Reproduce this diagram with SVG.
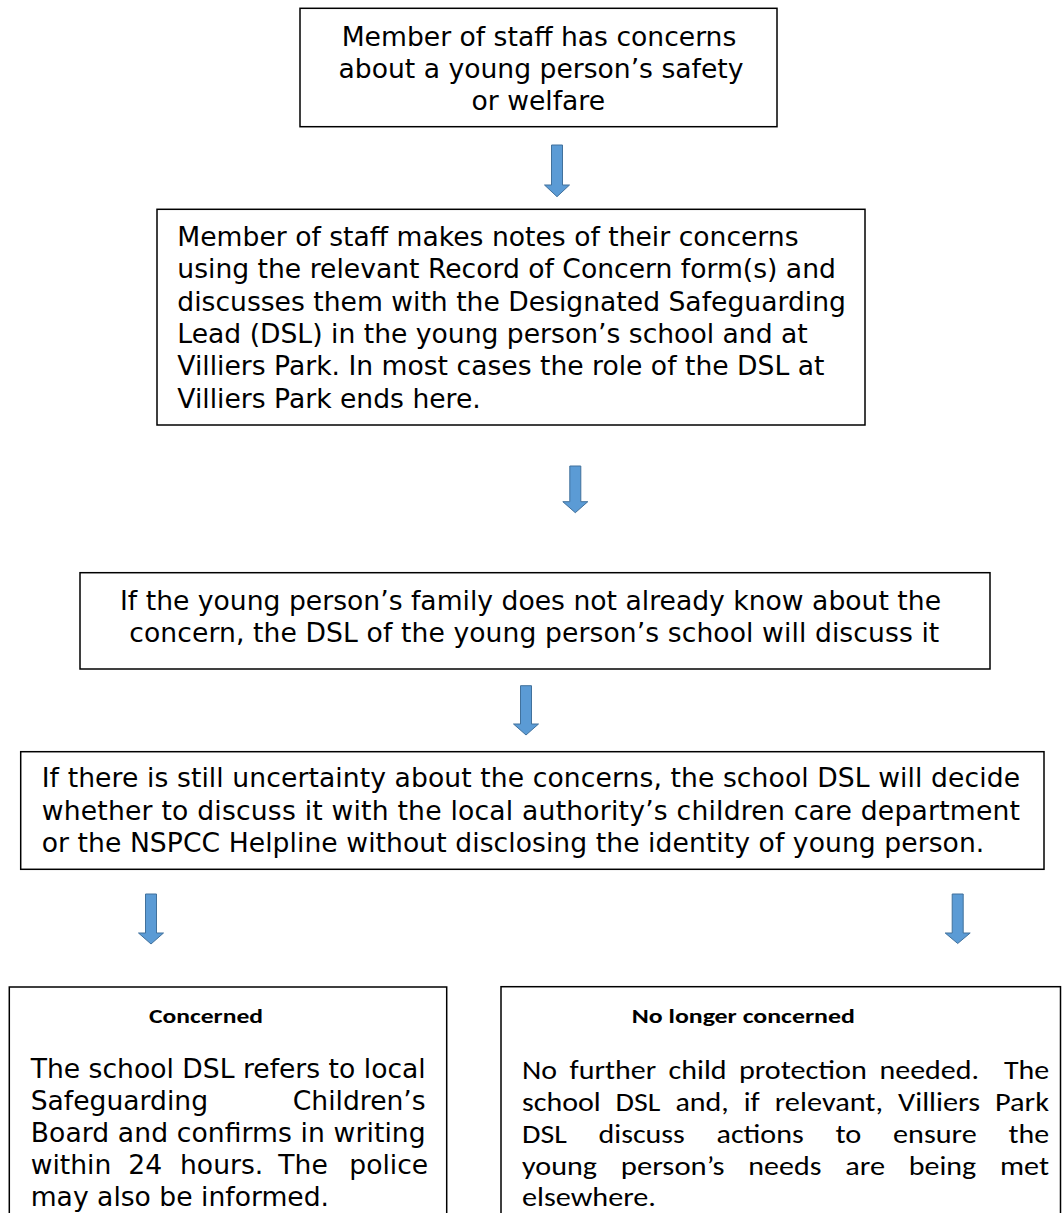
<svg xmlns="http://www.w3.org/2000/svg" width="1062" height="1213" viewBox="0 0 1062 1213">
<style>
.box{fill:#fff;stroke:#000;stroke-width:1.5}
.t{font-family:"DejaVu Sans",Verdana,sans-serif;font-size:26.6px;fill:#000}
.c{text-anchor:middle}
.e{text-anchor:end}
.h{font-family:Carlito,Lato,"Liberation Sans",sans-serif;font-weight:bold;font-size:21px;fill:#000;text-anchor:middle}
.r{font-family:Carlito,Lato,"Liberation Sans",sans-serif;font-size:27px;fill:#000}
.arrow{fill:#5b9bd5;stroke:#41719c;stroke-width:1}
</style>
<rect width="1062" height="1213" fill="#fff"/>
<g id="connectors">
<path class="arrow" d="M551.5,145 H562.5 V185 H569.5 L557,196.7 L544.5,185 H551.5 Z"/>
<path class="arrow" d="M569.8,466 H580.8 V501.7 H587.8 L575.3,512.7 L562.8,501.7 H569.8 Z"/>
<path class="arrow" d="M520.5,685.7 H531.5 V724 H538.5 L526,735 L513.5,724 H520.5 Z"/>
<path class="arrow" d="M145.5,894 H156.5 V933 H163.5 L151,944 L138.5,933 H145.5 Z"/>
<path class="arrow" d="M952.2,894 H963.2 V933 H970.2 L957.7,943.5 L945.2,933 H952.2 Z"/>
</g>
<g id="n1">
<rect class="box" x="300" y="8.3" width="477" height="118.4"/>
<text class="t c" x="539" y="45.5">Member of staff has concerns</text>
<text class="t c" x="541" y="77.8">about a young person’s safety</text>
<text class="t c" x="538.3" y="110">or welfare</text>
</g>
<g id="n2">
<rect class="box" x="157" y="209.3" width="708" height="215.7"/>
<text class="t" x="177.3" y="246">Member of staff makes notes of their concerns</text>
<text class="t" x="177.3" y="278.3">using the relevant Record of Concern form(s) and</text>
<text class="t" x="177.3" y="310.6">discusses them with the Designated Safeguarding</text>
<text class="t" x="177.3" y="342.9">Lead (DSL) in the young person’s school and at</text>
<text class="t" x="177.3" y="375.2">Villiers Park. In most cases the role of the DSL at</text>
<text class="t" x="177.3" y="407.5">Villiers Park ends here.</text>
</g>
<g id="n3">
<rect class="box" x="80" y="572.7" width="910" height="96.3"/>
<text class="t" x="120" y="610" textLength="821">If the young person’s family does not already know about the</text>
<text class="t" x="129.3" y="642.3" textLength="810">concern, the DSL of the young person’s school will discuss it</text>
</g>
<g id="n4">
<rect class="box" x="20.7" y="751.7" width="1023.3" height="117.6"/>
<text class="t" x="41.7" y="786.7" textLength="978.3">If there is still uncertainty about the concerns, the school DSL will decide</text>
<text class="t" x="41.7" y="819.5" textLength="978.3">whether to discuss it with the local authority’s children care department</text>
<text class="t" x="41.7" y="852" textLength="942.6">or the NSPCC Helpline without disclosing the identity of young person.</text>
</g>
<g id="n5">
<rect class="box" x="9.3" y="987" width="437.4" height="260"/>
<text class="h" x="206" y="1023.3" textLength="114" lengthAdjust="spacingAndGlyphs">Concerned</text>
<text class="t" x="30.7" y="1078" textLength="395">The school DSL refers to local</text>
<text class="t" x="30.7" y="1110">Safeguarding</text>
<text class="t e" x="425.7" y="1110">Children’s</text>
<text class="t" x="30.7" y="1142" textLength="395">Board and confirms in writing</text>
<text class="t" y="1174"><tspan x="30.7">within</tspan><tspan x="128.3">24</tspan><tspan x="180">hours.</tspan><tspan x="278.3">The</tspan><tspan x="349.3">police</tspan></text>
<text class="t" x="30.7" y="1206">may also be informed.</text>
</g>
<g id="n6">
<rect class="box" x="501" y="986.7" width="559.5" height="260"/>
<text class="h" x="743.3" y="1023.3" textLength="223" lengthAdjust="spacingAndGlyphs">No longer concerned</text>
<g class="r">
<text x="522" y="1079" textLength="35" lengthAdjust="spacingAndGlyphs">No</text>
<text x="569.6" y="1079" textLength="86.6" lengthAdjust="spacingAndGlyphs">further</text>
<text x="668.6" y="1079" textLength="58" lengthAdjust="spacingAndGlyphs">child</text>
<text x="738.9" y="1079" textLength="128" lengthAdjust="spacingAndGlyphs">protection</text>
<text x="879.5" y="1079" textLength="99.6" lengthAdjust="spacingAndGlyphs">needed.</text>
<text x="1003.9" y="1079" textLength="45.3" lengthAdjust="spacingAndGlyphs">The</text>
<text x="522" y="1111" textLength="78.7" lengthAdjust="spacingAndGlyphs">school</text>
<text x="615.6" y="1111" textLength="44.8" lengthAdjust="spacingAndGlyphs">DSL</text>
<text x="675.4" y="1111" textLength="53.4" lengthAdjust="spacingAndGlyphs">and,</text>
<text x="743.7" y="1111" textLength="16" lengthAdjust="spacingAndGlyphs">if</text>
<text x="774.7" y="1111" textLength="108.4" lengthAdjust="spacingAndGlyphs">relevant,</text>
<text x="898" y="1111" textLength="82" lengthAdjust="spacingAndGlyphs">Villiers</text>
<text x="995" y="1111" textLength="54" lengthAdjust="spacingAndGlyphs">Park</text>
<text x="522" y="1143" textLength="44.8" lengthAdjust="spacingAndGlyphs">DSL</text>
<text x="598.5" y="1143" textLength="86.3" lengthAdjust="spacingAndGlyphs">discuss</text>
<text x="716.5" y="1143" textLength="87.3" lengthAdjust="spacingAndGlyphs">actions</text>
<text x="835.5" y="1143" textLength="25.9" lengthAdjust="spacingAndGlyphs">to</text>
<text x="893.1" y="1143" textLength="83.6" lengthAdjust="spacingAndGlyphs">ensure</text>
<text x="1008.4" y="1143" textLength="40.7" lengthAdjust="spacingAndGlyphs">the</text>
<text x="522" y="1175" textLength="75" lengthAdjust="spacingAndGlyphs">young</text>
<text x="620.8" y="1175" textLength="103.7" lengthAdjust="spacingAndGlyphs">person’s</text>
<text x="748.3" y="1175" textLength="73.1" lengthAdjust="spacingAndGlyphs">needs</text>
<text x="845.2" y="1175" textLength="39.8" lengthAdjust="spacingAndGlyphs">are</text>
<text x="908.8" y="1175" textLength="67.4" lengthAdjust="spacingAndGlyphs">being</text>
<text x="1000" y="1175" textLength="49" lengthAdjust="spacingAndGlyphs">met</text>
<text x="522" y="1206" textLength="134" lengthAdjust="spacingAndGlyphs">elsewhere.</text>
</g>
</g>
</svg>
